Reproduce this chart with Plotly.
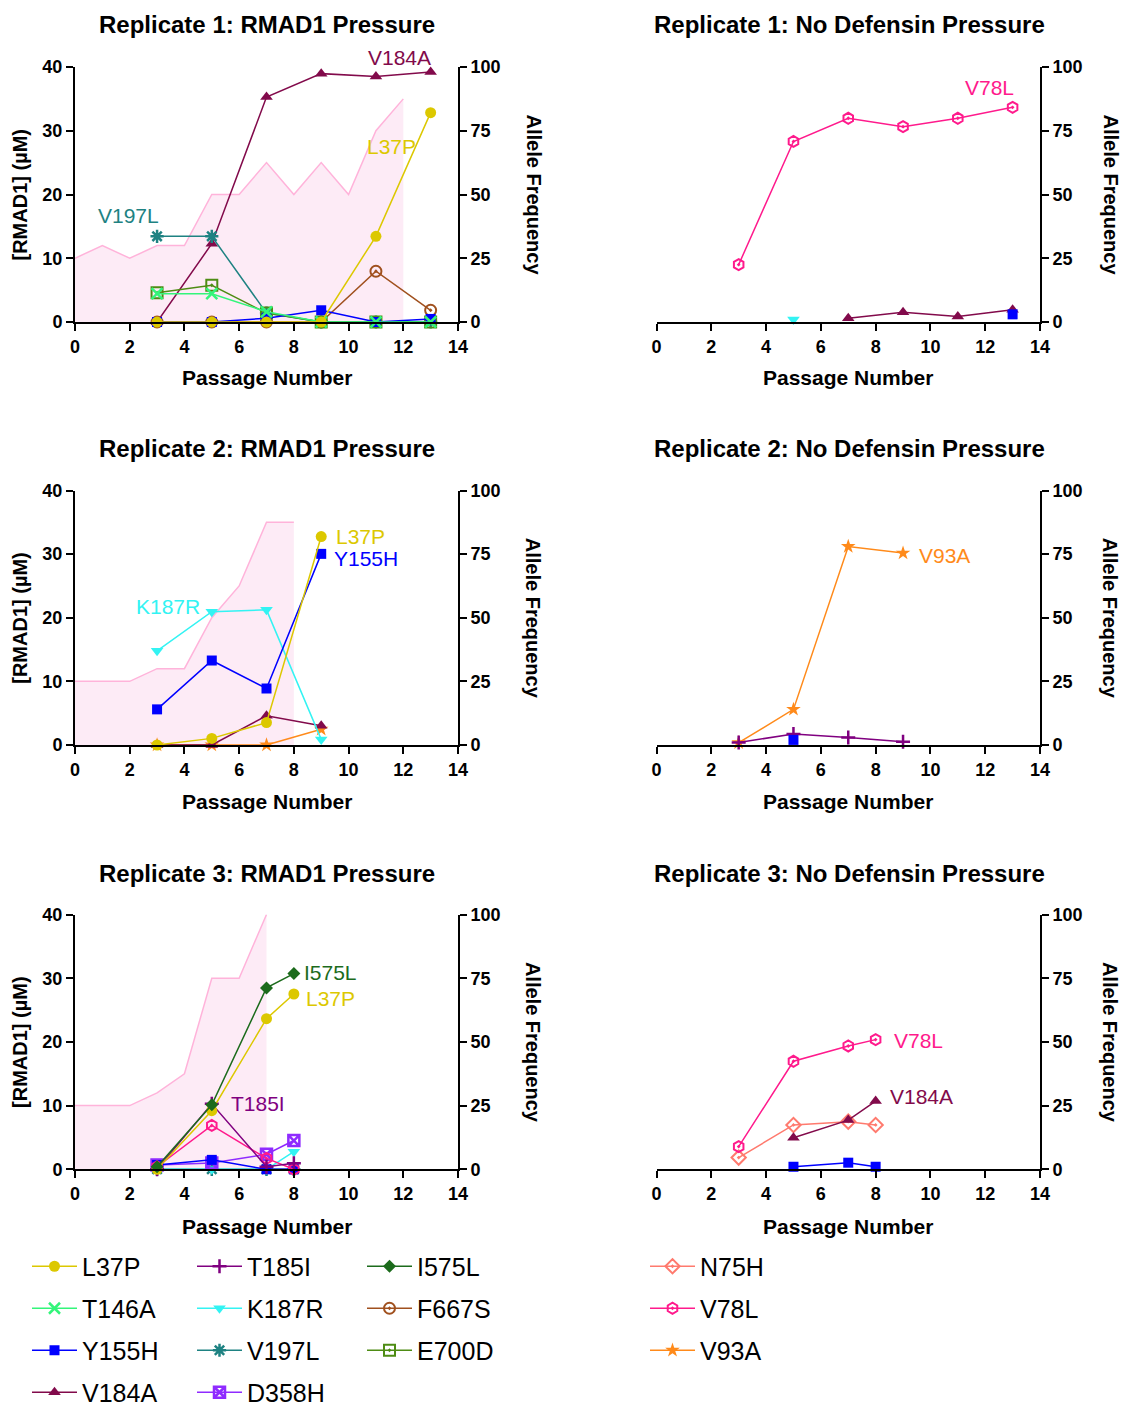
import plotly.graph_objects as go

# The browser body keeps an 8px margin while the page is measured; keep the figure inside it
FW, FH = 1121, 1407

# ---------------- data ----------------
conc_x_r1 = [0, 1, 2, 3, 4, 5, 6, 7, 8, 9, 10, 11, 12]
conc_r1 = [10, 12, 10, 12, 12, 20, 20, 25, 20, 25, 20, 30, 35]
conc_x_r2 = [0, 1, 2, 3, 4, 5, 6, 7, 8]
conc_r2 = [10, 10, 10, 12, 12, 20, 25, 35, 35]
conc_x_r3 = [0, 1, 2, 3, 4, 5, 6, 7]
conc_r3 = [10, 10, 10, 12, 15, 30, 30, 40]

r1p_x = [3, 5, 7, 9, 11, 13]
r1p_F667S = [0, 0, 0, 0, 19.9, 4.6]
r1p_V184A = [0, 30.7, 88.2, 97.4, 96.3, 98]
r1p_V197L = [33.6, 33.6, 3.5, 0, 0, 0]
r1p_E700D = [11.5, 14.4, 3.5, 0, 0, 0]
r1p_Y155H = [0, 0, 1.5, 4.6, 0, 1.2]
r1p_T146A = [11.1, 11.1, 4.0, 0, 0, 0]
r1p_L37P = [0, 0, 0, 0, 33.6, 82.1]

r1n_V78L_x = [3, 5, 7, 9, 11, 13]
r1n_V78L = [22.5, 70.8, 79.9, 76.6, 79.9, 84.2]
r1n_K187R_x = [5]
r1n_K187R = [1]
r1n_V184A_x = [7, 9, 11, 13]
r1n_V184A = [1.5, 3.8, 2.2, 4.8]
r1n_Y155H_x = [13]
r1n_Y155H = [3]

r2p_x = [3, 5, 7, 9]
r2p_V93A = [0, 0, 0, 6.2]
r2p_V184A = [0, 0, 11.5, 7.6]
r2p_K187R = [37, 52.4, 53.1, 2.2]
r2p_Y155H = [14, 33.2, 22.2, 75.1]
r2p_L37P = [0, 2.6, 8.8, 81.9]

r2n_x = [3, 5, 7, 9]
r2n_V93A = [0.9, 14, 78, 75.4]
r2n_T185I = [1, 4.3, 2.9, 1.3]
r2n_Y155H_x = [5]
r2n_Y155H = [2]

r3p_x = [3, 5, 7, 8]
r3p_V197L = [0, 0, 0, 0]
r3p_K187R = [0, 0, 0, 6.9]
r3p_D358H = [1.7, 2.5, 5.9, 11.3]
r3p_Y155H = [1.7, 3.7, 0, 0]
r3p_V78L = [1, 17.2, 4.3, 0]
r3p_T185I = [0, 25.7, 1, 2.4]
r3p_L37P = [0, 23, 59.1, 68.8]
r3p_I575L = [1, 25.3, 71.2, 76.8]

r3n_x = [3, 5, 7, 8]
r3n_N75H = [4.6, 17.4, 18.7, 17.4]
r3n_V78L = [8.9, 42.4, 48.4, 50.9]
r3n_V184A_x = [5, 7, 8]
r3n_V184A = [12.4, 19.3, 26.8]
r3n_Y155H_x = [5, 7, 8]
r3n_Y155H = [1, 2.6, 1]

STY = {
    'L37P':  dict(c='#DCC800', s='circle', sz=11, lw=0),
    'T146A': dict(c='#33F57A', s='x-thin', sz=11, lw=2.5),
    'Y155H': dict(c='#0000FF', s='square', sz=10, lw=0),
    'V184A': dict(c='#820A4B', s='triangle-up', sz=11, lw=0),
    'T185I': dict(c='#800080', s='cross-thin', sz=10, lw=2.5),
    'K187R': dict(c='#33F3F3', s='triangle-down', sz=11, lw=0),
    'V197L': dict(c='#1E8282', s='asterisk', sz=11, lw=2.5),
    'D358H': dict(c='#8F2BFF', s='square-x-open', sz=11, lw=2.5),
    'I575L': dict(c='#1C6B1C', s='diamond', sz=10, lw=0),
    'F667S': dict(c='#A0501E', s='circle-open-dot', sz=11, lw=2),
    'E700D': dict(c='#4E8C14', s='square-open-dot', sz=11, lw=2),
    'N75H':  dict(c='#FF7A6E', s='diamond-open-dot', sz=11, lw=2),
    'V78L':  dict(c='#FF1A8C', s='hexagon-open-dot', sz=11, lw=2),
    'V93A':  dict(c='#FF8A1A', s='star', sz=11, lw=0),
}
LEG = {
    'L37P': ('legend', 1), 'T146A': ('legend', 2), 'Y155H': ('legend', 3), 'V184A': ('legend', 4),
    'T185I': ('legend2', 1), 'K187R': ('legend2', 2), 'V197L': ('legend2', 3), 'D358H': ('legend2', 4),
    'I575L': ('legend3', 1), 'F667S': ('legend3', 2), 'E700D': ('legend3', 3),
    'N75H': ('legend4', 1), 'V78L': ('legend4', 2), 'V93A': ('legend4', 3),
}
shown = set()

fig = go.Figure()


def add_series(name, x, y, xa, ya):
    st = STY[name]
    show = name not in shown
    shown.add(name)
    leg, rank = LEG[name]
    fig.add_trace(go.Scatter(
        x=x, y=y, xaxis=xa, yaxis=ya, mode='lines+markers', name=name,
        line=dict(color=st['c'], width=1.5),
        marker=dict(symbol=st['s'], size=st['sz'], color=st['c'],
                    line=dict(color=st['c'], width=st['lw'])),
        cliponaxis=False, showlegend=show, legend=leg, legendrank=rank,
        legendgroup=name,
    ))


def add_conc(x, y, xa, ya):
    fig.add_trace(go.Scatter(
        x=x, y=y, xaxis=xa, yaxis=ya, mode='lines', fill='tozeroy',
        fillcolor='rgba(252,215,238,0.5)', line=dict(color='#FFB3DA', width=1.5),
        showlegend=False, hoverinfo='skip'))


add_conc(conc_x_r1, conc_r1, 'x', 'y')
add_series('F667S', r1p_x, r1p_F667S, 'x', 'y2')
add_series('V184A', r1p_x, r1p_V184A, 'x', 'y2')
add_series('V197L', r1p_x, r1p_V197L, 'x', 'y2')
add_series('E700D', r1p_x, r1p_E700D, 'x', 'y2')
add_series('Y155H', r1p_x, r1p_Y155H, 'x', 'y2')
add_series('T146A', r1p_x, r1p_T146A, 'x', 'y2')
add_series('L37P', r1p_x, r1p_L37P, 'x', 'y2')

add_series('V78L', r1n_V78L_x, r1n_V78L, 'x2', 'y3')
add_series('K187R', r1n_K187R_x, r1n_K187R, 'x2', 'y3')
add_series('V184A', r1n_V184A_x, r1n_V184A, 'x2', 'y3')
add_series('Y155H', r1n_Y155H_x, r1n_Y155H, 'x2', 'y3')

add_conc(conc_x_r2, conc_r2, 'x3', 'y4')
add_series('V93A', r2p_x, r2p_V93A, 'x3', 'y5')
add_series('V184A', r2p_x, r2p_V184A, 'x3', 'y5')
add_series('K187R', r2p_x, r2p_K187R, 'x3', 'y5')
add_series('Y155H', r2p_x, r2p_Y155H, 'x3', 'y5')
add_series('L37P', r2p_x, r2p_L37P, 'x3', 'y5')

add_series('V93A', r2n_x, r2n_V93A, 'x4', 'y6')
add_series('T185I', r2n_x, r2n_T185I, 'x4', 'y6')
add_series('Y155H', r2n_Y155H_x, r2n_Y155H, 'x4', 'y6')

add_conc(conc_x_r3, conc_r3, 'x5', 'y7')
add_series('V197L', r3p_x, r3p_V197L, 'x5', 'y8')
add_series('K187R', r3p_x, r3p_K187R, 'x5', 'y8')
add_series('D358H', r3p_x, r3p_D358H, 'x5', 'y8')
add_series('Y155H', r3p_x, r3p_Y155H, 'x5', 'y8')
add_series('V78L', r3p_x, r3p_V78L, 'x5', 'y8')
add_series('T185I', r3p_x, r3p_T185I, 'x5', 'y8')
add_series('L37P', r3p_x, r3p_L37P, 'x5', 'y8')
add_series('I575L', r3p_x, r3p_I575L, 'x5', 'y8')

add_series('N75H', r3n_x, r3n_N75H, 'x6', 'y9')
add_series('V184A', r3n_V184A_x, r3n_V184A, 'x6', 'y9')
add_series('V78L', r3n_x, r3n_V78L, 'x6', 'y9')
add_series('Y155H', r3n_Y155H_x, r3n_Y155H, 'x6', 'y9')

FONT = 'Liberation Sans, Arial, Helvetica, sans-serif'


def px(x):
    return x / FW


def py(y):
    return 1 - y / FH


LEFT_DOM = [px(75), px(458)]
RIGHT_DOM = [px(656.5), px(1040)]
ROWS = [(67, 322), (490.5, 745), (914.5, 1169.3)]

axcommon = dict(showgrid=False, zeroline=False, showline=True, linecolor='black',
                linewidth=2, ticks='outside', ticklen=7, tickwidth=2, tickcolor='black',
                tickfont=dict(family=FONT, size=18, color='black', weight='bold'))

lay = {}
xticks = dict(range=[0, 14], tickvals=[0, 2, 4, 6, 8, 10, 12, 14], **axcommon)
fticks = dict(range=[0, 100], tickvals=[0, 25, 50, 75, 100], **axcommon)
cticks = dict(range=[0, 40], tickvals=[0, 10, 20, 30, 40], **axcommon)
for r, (top, bot) in enumerate(ROWS):
    ydom = [py(bot), py(top)]
    xl = 2 * r + 1
    xr = 2 * r + 2
    yc = 3 * r + 1
    yf = 3 * r + 2
    yn = 3 * r + 3
    xl_name = 'x' if xl == 1 else f'x{xl}'
    xr_name = f'x{xr}'
    yc_name = 'y' if yc == 1 else f'y{yc}'
    lay['xaxis' if xl == 1 else f'xaxis{xl}'] = dict(domain=LEFT_DOM, anchor=yc_name, **xticks)
    lay[f'xaxis{xr}'] = dict(domain=RIGHT_DOM, anchor=f'y{yn}', **xticks)
    lay['yaxis' if yc == 1 else f'yaxis{yc}'] = dict(domain=ydom, anchor=xl_name, side='left', **cticks)
    lay[f'yaxis{yf}'] = dict(anchor=xl_name, overlaying=yc_name, side='right', **fticks)
    lay[f'yaxis{yn}'] = dict(domain=ydom, anchor=xr_name, side='right', **fticks)

fig.update_layout(**lay)

ann = []
titles = [('Replicate 1: RMAD1 Pressure', 'Replicate 1: No Defensin Pressure', 25),
          ('Replicate 2: RMAD1 Pressure', 'Replicate 2: No Defensin Pressure', 449),
          ('Replicate 3: RMAD1 Pressure', 'Replicate 3: No Defensin Pressure', 873)]
xtitle_y = [377, 801, 1226]
for (tl, tr, yy), (top, bot), ty in zip(titles, ROWS, xtitle_y):
    for t, cx in ((tl, 267), (tr, 849)):
        ann.append(dict(text=t, x=px(cx), y=py(yy), xref='paper', yref='paper',
                        showarrow=False, xanchor='center', yanchor='middle',
                        font=dict(family=FONT, size=24, color='black', weight='bold')))
    for cx in (266.5, 848):
        ann.append(dict(text='Passage Number', x=px(cx), y=py(ty), xref='paper', yref='paper',
                        showarrow=False, xanchor='center', yanchor='middle',
                        font=dict(family=FONT, size=21, color='black', weight='bold')))
    mid = (top + bot) / 2
    ann.append(dict(text='[RMAD1] (µM)', x=px(20), y=py(mid), xref='paper', yref='paper',
                    showarrow=False, textangle=-90, xanchor='center', yanchor='middle',
                    font=dict(family=FONT, size=20, color='black', weight='bold')))
    for cx in (533, 1110):
        ann.append(dict(text='Allele Frequency', x=px(cx), y=py(mid), xref='paper', yref='paper',
                        showarrow=False, textangle=90, xanchor='center', yanchor='middle',
                        font=dict(family=FONT, size=20, color='black', weight='bold')))

labels = [
    ('V184A', 399, 57), ('L37P', 391, 147), ('V197L', 128, 216),
    ('V78L', 989, 88),
    ('L37P', 360, 536), ('Y155H', 366, 558), ('K187R', 168, 606),
    ('V93A', 944, 555),
    ('I575L', 330, 972), ('L37P', 330, 998), ('T185I', 258, 1103),
    ('V78L', 918, 1040), ('V184A', 921, 1096),
]
for name, cx, cy in labels:
    ann.append(dict(text=name, x=px(cx), y=py(cy), xref='paper', yref='paper',
                    showarrow=False, xanchor='center', yanchor='middle',
                    font=dict(family=FONT, size=21, color=STY[name]['c'])))

# legend: first row centre ~1266, rows 42px apart
LEG_TOP = 1266 - 22.5
legstyle = dict(orientation='v', xanchor='left', yanchor='top', bgcolor='rgba(0,0,0,0)',
                font=dict(family=FONT, size=25, color='black'), tracegroupgap=6.5,
                traceorder='grouped', itemwidth=45)
fig.update_layout(
    annotations=ann,
    width=FW, height=FH, margin=dict(l=0, r=0, t=0, b=0, autoexpand=False),
    paper_bgcolor='white', plot_bgcolor='rgba(0,0,0,0)',
    font=dict(family=FONT, color='black'),
    legend=dict(x=px(82 - 55), y=py(LEG_TOP), **legstyle),
    legend2=dict(x=px(247 - 55), y=py(LEG_TOP), **legstyle),
    legend3=dict(x=px(417 - 55), y=py(LEG_TOP), **legstyle),
    legend4=dict(x=px(700 - 55), y=py(LEG_TOP), **legstyle),
)

fig.write_html('out.html')
